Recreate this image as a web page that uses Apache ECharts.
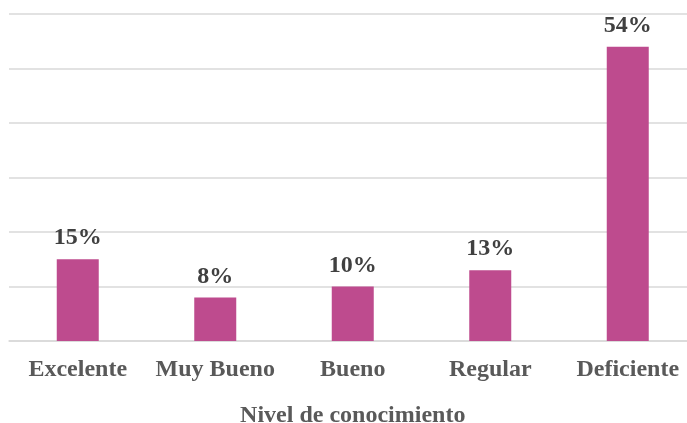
<!DOCTYPE html>
<html>
<head>
<meta charset="utf-8">
<script src="https://cdn.jsdelivr.net/npm/echarts@6/dist/echarts.min.js"></script>
<style>
html,body{margin:0;padding:0;background:#fff;}
#c{width:687px;height:423px;}
</style>
</head>
<body>
<div id="c"></div>
<script>
const categories = ['Excelente', 'Muy Bueno', 'Bueno', 'Regular', 'Deficiente'];
const values = [15, 8, 10, 13, 54];
const axisTitle = 'Nivel de conocimiento';

const chart = echarts.init(document.getElementById('c'));
const font = '"Liberation Serif", "Times New Roman", serif';
chart.setOption({
  animation: false,
  grid: { left: 9, top: 14, width: 687.5, bottom: 82, containLabel: false, outerBoundsMode: 'none' },
  xAxis: {
    type: 'category',
    data: categories,
    axisLine: { show: true, lineStyle: { color: '#D9D9D9', width: 1.5 } },
    axisTick: { show: false },
    axisLabel: { color: '#595959', fontFamily: font, fontWeight: 'bold', fontSize: 24, margin: 17, interval: 0 },
    name: axisTitle,
    nameLocation: 'middle',
    nameGap: 63,
    nameMoveOverlap: false,
    nameTextStyle: { color: '#595959', fontFamily: font, fontWeight: 'bold', fontSize: 24 }
  },
  yAxis: {
    type: 'value',
    min: 0, max: 60, interval: 10,
    axisLabel: { show: false },
    axisLine: { show: false },
    axisTick: { show: false },
    splitLine: { lineStyle: { color: '#D9D9D9', width: 1.5 } }
  },
  series: [{
    type: 'bar',
    data: values,
    barWidth: 42,
    itemStyle: { color: '#BE4B8E' },
    label: {
      show: true,
      position: 'top',
      distance: 9,
      formatter: '{c}%',
      color: '#404040',
      fontFamily: font,
      fontWeight: 'bold',
      fontSize: 24
    }
  }]
});
</script>
</body>
</html>
